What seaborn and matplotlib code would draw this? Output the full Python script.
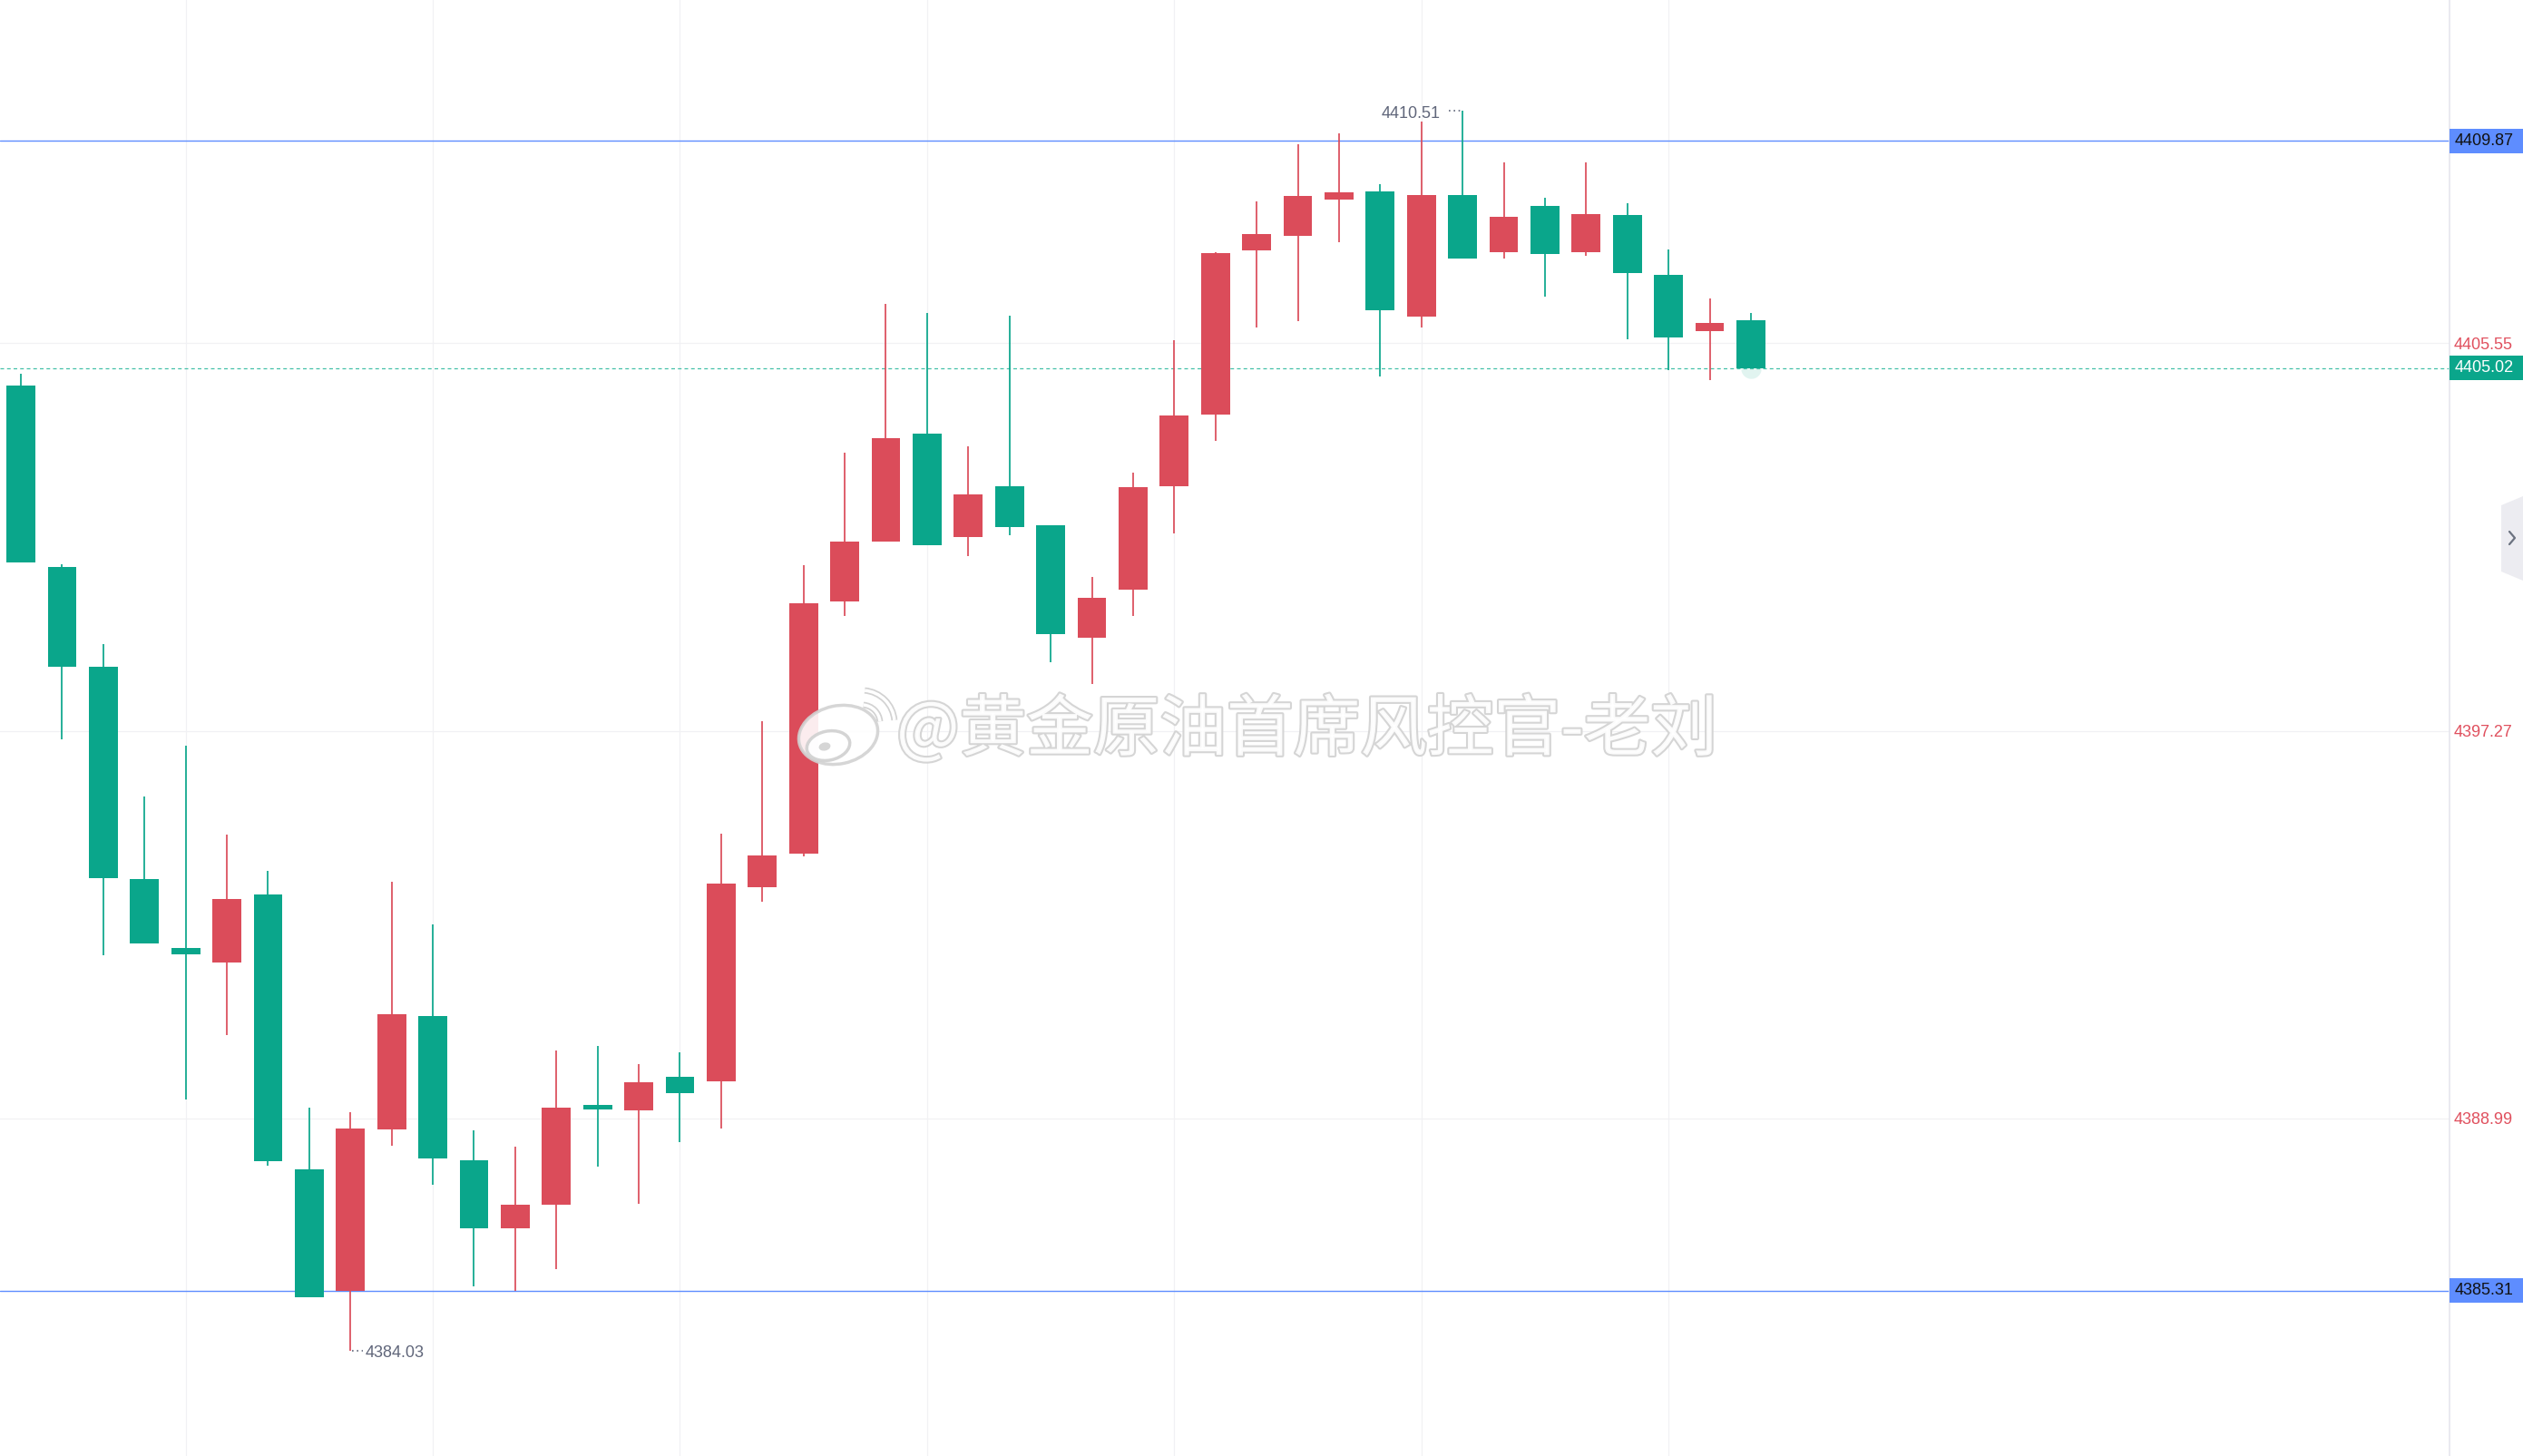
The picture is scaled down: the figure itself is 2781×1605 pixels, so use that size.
import numpy as np
import pandas as pd
import matplotlib
matplotlib.use("Agg")
import matplotlib.pyplot as plt
import seaborn as sns
from matplotlib import patheffects as pe
from matplotlib.patches import Rectangle, Ellipse, Arc, Polygon
import matplotlib.transforms as mtransforms

# ---------------- data ----------------
opens = [4404.65, 4400.76, 4398.63, 4394.11, 4392.64, 4392.33, 4393.78, 4387.91, 4385.31, 4388.75,
         4391.17, 4388.09, 4386.65, 4387.14, 4389.28, 4389.16, 4389.87, 4389.79, 4393.92, 4394.65,
         4400.04, 4401.31, 4403.61, 4401.41, 4402.50, 4401.66, 4399.25, 4400.28, 4402.49, 4404.02,
         4407.53, 4407.85, 4408.61, 4408.80, 4406.12, 4408.72, 4407.49, 4408.48, 4407.49, 4408.28,
         4407.01, 4405.80, 4406.04]
highs = [4404.90, 4400.83, 4399.13, 4395.87, 4396.95, 4395.06, 4394.28, 4389.22, 4389.13, 4394.05,
         4393.14, 4388.74, 4388.39, 4390.45, 4390.54, 4390.16, 4390.40, 4395.08, 4397.47, 4400.81,
         4403.22, 4406.38, 4406.19, 4403.35, 4406.14, 4401.66, 4400.55, 4402.79, 4405.61, 4407.50,
         4408.58, 4409.79, 4410.03, 4408.95, 4410.29, 4410.51, 4409.42, 4408.66, 4409.42, 4408.54,
         4407.56, 4406.51, 4406.20]
lows = [4400.86, 4397.09, 4392.47, 4392.72, 4389.39, 4390.78, 4387.99, 4385.18, 4384.03, 4388.41,
        4387.57, 4385.40, 4385.31, 4385.78, 4387.96, 4387.17, 4388.49, 4388.77, 4393.62, 4394.59,
        4399.72, 4401.31, 4401.24, 4401.01, 4401.44, 4398.73, 4398.27, 4399.73, 4401.49, 4403.47,
        4405.88, 4406.02, 4407.71, 4404.83, 4405.88, 4407.36, 4407.36, 4406.55, 4407.42, 4405.64,
        4404.97, 4404.77, 4405.02]
closes = [4400.86, 4398.64, 4394.12, 4392.72, 4392.49, 4393.68, 4388.07, 4385.18, 4388.78, 4391.22,
          4388.13, 4386.65, 4387.14, 4389.23, 4389.19, 4389.76, 4389.53, 4394.01, 4394.61, 4399.99,
          4401.31, 4403.53, 4401.24, 4402.31, 4401.62, 4399.34, 4400.11, 4402.48, 4404.01, 4407.48,
          4407.88, 4408.69, 4408.78, 4406.26, 4408.72, 4407.36, 4408.25, 4407.45, 4408.31, 4407.04,
          4405.67, 4405.99, 4405.02]

axis_ticks = [4388.99, 4397.27, 4405.55]
level_lines = [4409.87, 4385.31]
last_price = 4405.02
high_label = "4410.51"
low_label = "4384.03"
watermark = "@黄金原油首席风控官-老刘"

# ---------------- style ----------------
RED = "#DB4C5A"
GREEN = "#0AA68B"
BLUE = "#5E8DFF"
TICK_RED = "#E0505E"
GRID = "#F1F1F4"
ANN = "#60667A"

sns.set_style("white")
plt.rcParams["font.family"] = ["Liberation Sans", "DejaVu Sans"]

W, H = 2781, 1605
fig = plt.figure(figsize=(W / 100, H / 100), dpi=100)
fig.patch.set_facecolor("white")
ax = fig.add_axes([0, 0, 2700 / W, 1])

df = pd.DataFrame({"open": opens, "high": highs, "low": lows, "close": closes})
df["idx"] = np.arange(len(df))
df["up"] = df["close"] >= df["open"]
colors = np.where(df["up"], RED, GREEN)

# wicks and bodies
ax.vlines(df["idx"], df["low"], df["high"], colors=colors, lw=1.25, zorder=3)
body_bottom = np.minimum(df["open"], df["close"])
body_height = (df["close"] - df["open"]).abs()
ax.bar(df["idx"], body_height, bottom=body_bottom, width=0.70, color=colors, lw=0, zorder=4)

# last-candle glow
ax.scatter([df["idx"].iloc[-1]], [last_price], s=260, color=GREEN, alpha=0.12, lw=0, zorder=2)

# horizontal levels
for lv in level_lines:
    ax.axhline(lv, color=BLUE, lw=1.0, zorder=2)
ax.axhline(last_price, color="#45C0A8", lw=0.9, ls=(0, (3.2, 2.6)), zorder=2)

# axes ranges
ax.set_xlim(-0.507, 58.96)
ax.set_ylim(4381.78, 4412.88)

# grid
ax.set_xticks(np.arange(4, 41, 6))
ax.set_yticks(axis_ticks)
ax.set_yticklabels([f"{t:.2f}" for t in axis_ticks])
ax.grid(True, color=GRID, lw=0.9, zorder=0)
ax.tick_params(axis="x", length=0, labelbottom=False)
ax.yaxis.set_ticks_position("right")
ax.tick_params(axis="y", length=0, pad=3.6, labelsize=13, labelcolor=TICK_RED,
               left=False, labelleft=False, right=True, labelright=True)
for s in ["left", "top", "bottom"]:
    ax.spines[s].set_visible(False)
ax.spines["right"].set_color("#E6E6EE")
ax.spines["right"].set_linewidth(1.2)

# boxed labels on the price axis
trans = mtransforms.blended_transform_factory(ax.transAxes, ax.transData)
box_h = 0.52
for val, fc, tc in [(level_lines[0], BLUE, "#111111"), (last_price, GREEN, "white"),
                    (level_lines[1], BLUE, "#111111")]:
    ax.add_patch(Rectangle((1.0, val - box_h / 2), W / 2700 - 1.0, box_h, transform=trans,
                           facecolor=fc, edgecolor="none", clip_on=False, zorder=6))
    ax.text(1.0019, val, f"{val:.2f}", transform=trans, ha="left", va="center",
            fontsize=13, color=tc, clip_on=False, zorder=7)

# high / low annotations
imax = int(np.argmax(highs))
imin = int(np.argmin(lows))
ax.hlines(highs[imax], imax - 0.34, imax - 0.03, colors=ANN, lw=1.2, linestyles=(0, (1, 2.2)), zorder=5)
ax.annotate(high_label, (imax, highs[imax]), xytext=(-17.5, -2.5), textcoords="offset points",
            ha="right", va="center", fontsize=13, color=ANN, zorder=5)
ax.hlines(lows[imin], imin + 0.03, imin + 0.30, colors=ANN, lw=1.2, linestyles=(0, (1, 2.2)), zorder=5)
ax.annotate(low_label, (imin, lows[imin]), xytext=(12, -2), textcoords="offset points",
            ha="left", va="center", fontsize=13, color=ANN, zorder=5)

# ---------------- overlay: watermark and side tab ----------------
ov = fig.add_axes([0, 0, 1, 1], zorder=5)
ov.set_xlim(0, W)
ov.set_ylim(H, 0)
ov.axis("off")
ov.patch.set_alpha(0)

wm_edge = "#D2D2D2"
ov.text(988, 806, watermark, fontsize=53, family=["Noto Sans CJK SC", "DejaVu Sans"],
        color="white", alpha=0.92, ha="left", va="center",
        path_effects=[pe.withStroke(linewidth=3.0, foreground=wm_edge)])
# weibo-like logo
ov.add_patch(Ellipse((924, 810), 88, 64, angle=-12, facecolor="white", alpha=0.9,
                     edgecolor=wm_edge, lw=2.5))
ov.add_patch(Ellipse((913, 822), 48, 32, angle=-12, facecolor="white", alpha=0.95,
                     edgecolor=wm_edge, lw=2.5))
ov.add_patch(Ellipse((909, 823), 13, 9, angle=-12, facecolor="#D6D6D6", edgecolor="none"))
for r in (20, 36):
    ov.add_patch(Arc((950, 797), 2 * r, 2 * r, theta1=275, theta2=355,
                     edgecolor=wm_edge, lw=5))
    ov.add_patch(Arc((950, 797), 2 * r, 2 * r, theta1=275, theta2=355,
                     edgecolor="white", lw=2.5))

# right side tab with chevron
ov.add_patch(Polygon([(2757, 557), (2781, 547), (2781, 640), (2757, 630)], closed=True,
                     facecolor="#ECECF1", edgecolor="none"))
ov.plot([2766, 2772, 2766], [586, 593, 600], color="#6B7280", lw=1.6, solid_capstyle="round")

fig.savefig("out.png", dpi=100, facecolor="white")
